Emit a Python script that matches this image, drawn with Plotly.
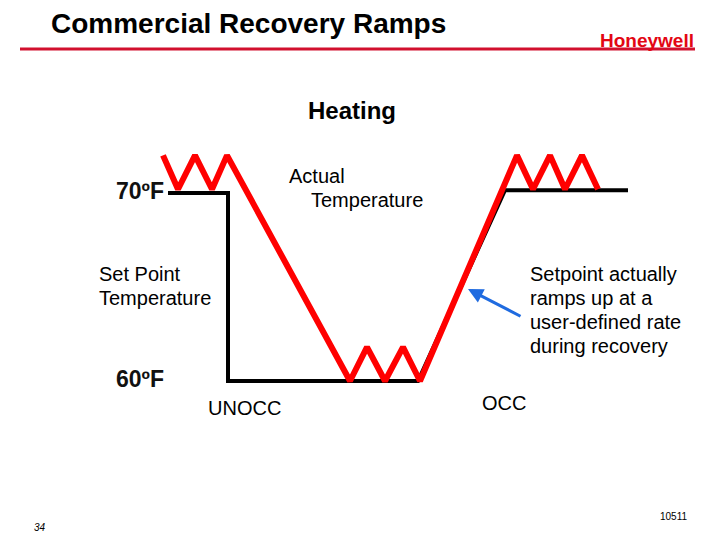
import plotly.graph_objects as go

W, H = 720, 540
FONT = "Liberation Sans, Arial, sans-serif"

# ---- data (time units along x, temperature in degF along y) ----
setpoint_time = [168, 228, 228, 418, 505, 628]
setpoint_temp = [70.0, 70.0, 60.0, 60.0, 70.15, 70.15]

actual_time = [163, 178, 195, 212, 227, 350, 367, 385, 403, 420, 517, 533, 550, 565, 582, 598]
actual_temp = [72.0, 70.2, 72.0, 70.2, 72.0, 60.0, 61.8, 60.0, 61.8, 60.0,
               72.0, 70.2, 72.0, 70.2, 72.0, 70.2]

temp_labels = ["70ºF", "60ºF"]
temp_label_values = [70, 60]

# axis scale: 70F at pixel row 193, 60F at row 381
PX_PER_DEG = (381 - 193) / 10.0
Y_TOP = 70 + 193 / PX_PER_DEG
Y_BOT = 60 - (H - 381) / PX_PER_DEG


def ty(py):
    return 70 + (193 - py) / PX_PER_DEG


def px(x):
    return x / W


def py_(y):
    return 1 - y / H


fig = go.Figure()
fig.add_trace(go.Scatter(x=setpoint_time, y=setpoint_temp, mode="lines",
                         line=dict(color="black", width=4), hoverinfo="skip"))
fig.add_trace(go.Scatter(x=actual_time, y=actual_temp, mode="lines",
                         line=dict(color="#FF0000", width=6), hoverinfo="skip"))

ann = []


def text(t, x, y, size, xanchor="left", bold=False, italic=False, color="black", family=FONT):
    s = t
    if bold:
        s = "<b>" + s + "</b>"
    if italic:
        s = "<i>" + s + "</i>"
    ann.append(dict(text=s, x=px(x), y=py_(y), xref="paper", yref="paper",
                    xanchor=xanchor, yanchor="middle", showarrow=False,
                    font=dict(size=size, color=color, family=family)))


# title and logo
text("Commercial Recovery Ramps", 248, 24, 28, xanchor="center", bold=True)
text("Honeywell", 696, 40, 19, xanchor="right", bold=True, color="#E30613",
     family="Liberation Sans Narrow, Arial Narrow, Liberation Sans, sans-serif")
text("Heating", 352, 111, 24, xanchor="center", bold=True)

# temperature labels
for lab, val in zip(temp_labels, temp_label_values):
    yy = 193 - (val - 70) * PX_PER_DEG - 2
    text(lab, 166, yy, 23, xanchor="right", bold=True, color="#111111")

text("Actual", 287, 176, 20)
text("Temperature", 309, 200, 20)
text("Set Point", 97, 274, 20)
text("Temperature", 97, 298, 20)
for i, line in enumerate(["Setpoint actually", "ramps up at a", "user-defined rate", "during recovery"]):
    text(line, 528, 274 + 24 * i, 20)
text("UNOCC", 206, 408, 20)
text("OCC", 480, 403, 20)
text("34", 32, 527, 10, italic=True)
text("10511", 690, 516, 10, xanchor="right")

# arrow
ann.append(dict(x=468, y=ty(289), ax=522, ay=ty(317), xref="x", yref="y",
                axref="x", ayref="y", showarrow=True, arrowhead=2, arrowsize=1,
                arrowwidth=3, arrowcolor="#1F6BE0", text=""))

fig.update_layout(
    width=W, height=H, margin=dict(l=0, r=0, t=0, b=0),
    paper_bgcolor="white", plot_bgcolor="white", showlegend=False,
    xaxis=dict(range=[0, W], visible=False, fixedrange=True),
    yaxis=dict(range=[Y_BOT, Y_TOP], visible=False, fixedrange=True),
    annotations=ann,
    shapes=[dict(type="line", xref="paper", yref="paper", x0=px(20), x1=px(695),
                 y0=py_(49), y1=py_(49), line=dict(color="#D2102E", width=3))],
)

fig.write_html("out.html", config={"displayModeBar": False},
               post_script="document.body.style.margin='0px';document.body.style.overflow='hidden';")
